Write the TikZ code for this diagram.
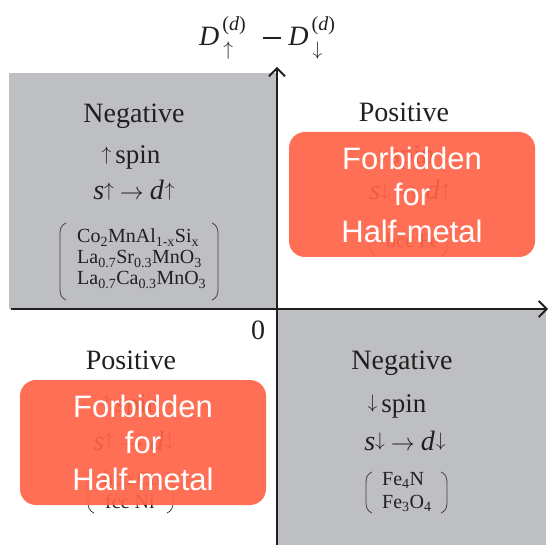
\documentclass[tikz,border=0pt]{standalone}
\usepackage{graphicx}
\usepackage{fontspec}
\setmainfont{Liberation Serif}
\newfontfamily\sansf{Liberation Sans}
\usetikzlibrary{arrows.meta}
\definecolor{gbg}{RGB}{190,191,195}
\definecolor{ink}{RGB}{35,31,32}
\definecolor{forb}{RGB}{255,99,71}
\newcommand{\ua}{\raisebox{3.5pt}{\scalebox{1.95}{\fontsize{10}{12}\selectfont$\uparrow$}}}
\newcommand{\da}{\raisebox{3.5pt}{\scalebox{1.95}{\fontsize{10}{12}\selectfont$\downarrow$}}}
\newcommand{\ra}{\scalebox{2.4}{\fontsize{10}{12}\selectfont$\rightarrow$}}
\newcommand{\mminus}{\rule[7.3pt]{18pt}{1.3pt}}
\newcommand{\parL}[3]{\draw[brk] ({#1+6},{#2}) .. controls ({#1+1},{#2+2}) and ({#1},{#2+6}) .. ({#1},{#2+11}) -- ({#1},{#3-11}) .. controls ({#1},{#3-6}) and ({#1+1},{#3-2}) .. ({#1+6},{#3});}
\newcommand{\parR}[3]{\draw[brk] ({#1-6},{#2}) .. controls ({#1-1},{#2+2}) and ({#1},{#2+6}) .. ({#1},{#2+11}) -- ({#1},{#3-11}) .. controls ({#1},{#3-6}) and ({#1-1},{#3-2}) .. ({#1-6},{#3});}
\newcommand{\supsub}[1]{\makebox[32pt][l]{\rlap{\raisebox{15pt}{\fontsize{20}{20}\selectfont(\textit{d})}}\raisebox{-13pt}{\kern1pt#1}}}
\begin{document}
\begin{tikzpicture}[x=1pt,y=-1pt,
  txt/.style={anchor=base, inner sep=0pt, text=ink},
  hdr/.style={txt, font=\fontsize{28}{30}\selectfont},
  spinl/.style={txt, font=\fontsize{27}{29}\selectfont},
  chem/.style={txt, anchor=base west, font=\fontsize{20}{21}\selectfont},
  forbbox/.style={fill=forb, fill opacity=0.92, text opacity=1, draw=none, rounded corners=16pt,
    minimum width=246pt, minimum height=125pt, inner sep=0pt,
    text=white, font=\sansf\fontsize{31}{36.5}\selectfont, align=center},
  axis/.style={draw=ink, line width=1.8pt, -{Straight Barb[length=8pt,width=16pt]}},
  brk/.style={draw=ink!85, line width=0.8pt}
]
\useasboundingbox (0,0) rectangle (549,545);
% shaded quadrants
\fill[gbg] (9,73) rectangle (277,309);
\fill[gbg] (277,309) rectangle (546,545);

% title
\node[txt, anchor=base west, font=\fontsize{28}{30}\selectfont] (title) at (199,46)
  {\textit{D}\kern3pt\supsub{\ua}\kern9pt\mminus\kern7pt\textit{D}\kern3pt\supsub{\da}};

% top-left quadrant
\node[hdr] (tlh) at (134,123) {Negative};
\node[spinl] (tls) at (131,164) {\ua\kern4pt spin};
\node[hdr] (tlt) at (134,200) {\textit{s}\ua\kern6pt\ra\kern6pt\textit{d}\kern1pt\ua};
\node[chem] (tlc1) at (77,243) {Co\textsubscript{2}MnAl\textsubscript{1-x}Si\textsubscript{x}};
\node[chem] (tlc2) at (77,264) {La\textsubscript{0.7}Sr\textsubscript{0.3}MnO\textsubscript{3}};
\node[chem] (tlc3) at (77,285) {La\textsubscript{0.7}Ca\textsubscript{0.3}MnO\textsubscript{3}};
\parL{60}{223}{300}
\parR{218}{223}{300}

% top-right quadrant
\node[hdr] (trh) at (404,122) {Positive};
\node[spinl] (trs) at (405,164) {\da\kern4pt spin};
\node[hdr] (trt) at (410,200) {\textit{s}\da\kern6pt\ra\kern6pt\textit{d}\kern1pt\ua};
\node[chem] (trc1) at (386,248) {bcc Fe};
\parL{370}{227}{256}
\parR{447}{227}{256}

% bottom-left quadrant
\node[hdr] (blh) at (131,370) {Positive};
\node[spinl] (bls) at (131,412) {\ua\kern4pt spin};
\node[hdr] (blt) at (134,450) {\textit{s}\ua\kern6pt\ra\kern6pt\textit{d}\kern1pt\da};
\node[chem] (blc1) at (103,485) {hcp Co};
\node[chem] (blc2) at (105,508) {fcc Ni};
\parL{88}{472}{513}
\parR{173}{472}{513}

% bottom-right quadrant
\node[hdr] (brh) at (402,370) {Negative};
\node[spinl] (brs) at (397,412) {\da\kern4pt spin};
\node[hdr] (brt) at (405,450) {\textit{s}\da\kern6pt\ra\kern6pt\textit{d}\kern1pt\da};
\node[chem] (brc1) at (382,485) {Fe\textsubscript{4}N};
\node[chem] (brc2) at (382,508) {Fe\textsubscript{3}O\textsubscript{4}};
\parL{366}{472}{513}
\parR{447}{472}{513}

% origin
\node[hdr] (zero) at (258,340) {0};

% axes
\coordinate (xs) at (11,309);
\coordinate (xe) at (548,309);
\coordinate (ys) at (277,545);
\coordinate (ye) at (277,67);
\draw[axis] (xs) -- (xe);
\draw[axis] (ys) -- (ye);

% forbidden overlays
\node[forbbox] (f1) at (412,194.5) {Forbidden\\for\\Half-metal};
\node[forbbox] (f2) at (143,442.5) {Forbidden\\for\\Half-metal};
\end{tikzpicture}
\end{document}
